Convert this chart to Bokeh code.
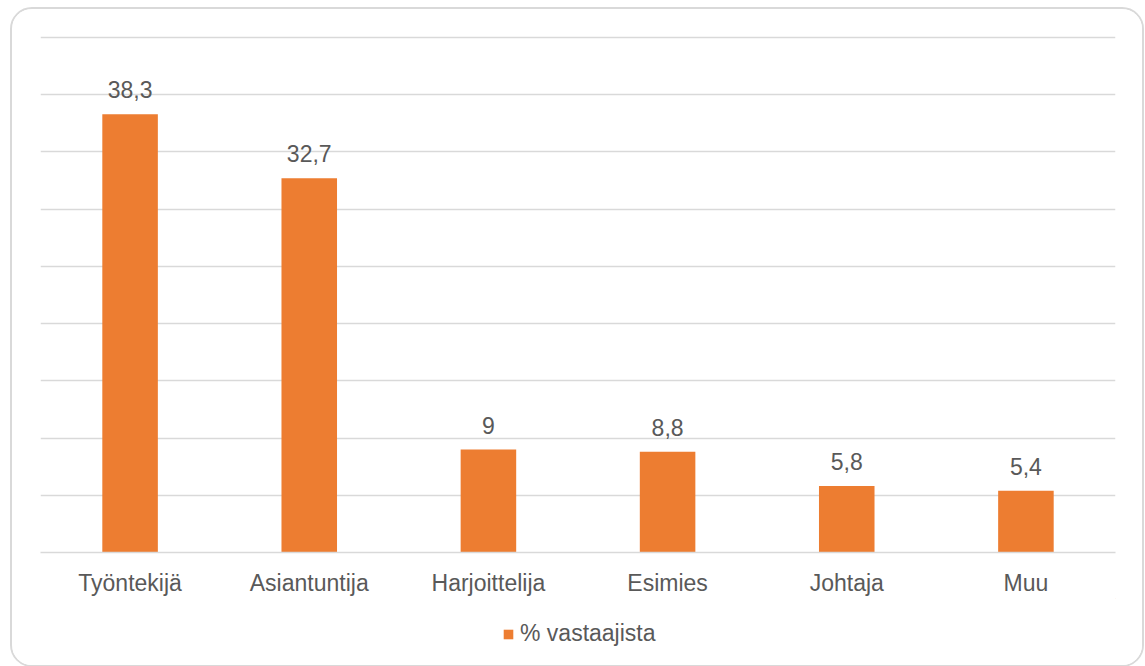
from bokeh.plotting import figure
from bokeh.layouts import column
from bokeh.models import (ColumnDataSource, FactorRange, SingleIntervalTicker, LabelSet,
                          Legend, LegendItem, Range1d)
from bokeh.core.properties import value
from bokeh.embed import file_html
from bokeh.resources import INLINE

categories = ["Työntekijä", "Asiantuntija", "Harjoittelija", "Esimies", "Johtaja", "Muu"]
values = [38.3, 32.7, 9, 8.8, 5.8, 5.4]
series_name = "% vastaajista"

def fmt(v):
    s = ("%g" % v)
    return s.replace(".", ",")

labels = [fmt(v) for v in values]

source = ColumnDataSource(dict(cat=categories, val=values, lab=labels))

BAR = "#ED7D31"
TEXT = "#595959"
GRID = "#D9D9D9"
FONT = "Liberation Sans"

p = figure(frame_width=1075, frame_height=517, output_backend="svg", toolbar_location=None,
           x_range=FactorRange(*categories, range_padding=0),
           y_range=Range1d(0, 45.175),
           min_border_left=28, min_border_right=27, min_border_top=26, min_border_bottom=40,
           outline_line_color=None, background_fill_color="white", border_fill_color="white")

r = p.vbar(x="cat", top="val", width=0.31, source=source, fill_color=BAR, line_color=None)

p.yaxis.visible = False
p.ygrid.ticker = SingleIntervalTicker(interval=5)
p.ygrid.grid_line_color = GRID
p.ygrid.grid_line_width = 1.3
p.xgrid.grid_line_color = None

ax = p.xaxis[0]
ax.axis_line_color = GRID
ax.axis_line_width = 1.3
ax.major_tick_line_color = None
ax.minor_tick_line_color = None
ax.major_label_text_font = FONT
ax.major_label_text_font_size = "23px"
ax.major_label_text_color = TEXT
ax.major_label_standoff = 11

lbl = LabelSet(x="cat", y="val", text="lab", source=source, text_align="center",
               text_baseline="alphabetic", y_offset=16, text_font=value(FONT),
               text_font_size=value("23px"), text_color=value(TEXT))
p.add_layout(lbl)

# legend strip below the chart (its swatch renderer sits outside the visible range)
p2 = figure(width=1130, height=67, output_backend="svg", toolbar_location=None,
            x_range=Range1d(0, 1), y_range=Range1d(0, 1),
            min_border=0, outline_line_color=None,
            background_fill_color="white", border_fill_color="white")
p2.axis.visible = False
p2.grid.grid_line_color = None
r2 = p2.vbar(x=[5], top=[5], bottom=[4], width=0.31, fill_color=BAR, line_color=None)

legend = Legend(items=[LegendItem(label=series_name, renderers=[r2])],
                location=(462, 18), orientation="horizontal",
                padding=0, margin=0, glyph_width=12, glyph_height=12,
                label_height=24, label_standoff=6,
                label_text_font=FONT, label_text_font_size="23px", label_text_color=TEXT,
                border_line_alpha=0, background_fill_alpha=0)
p2.add_layout(legend, "center")

layout = column(p, p2, spacing=0,
                styles={"margin-left": "10px", "margin-top": "7px",
                        "border": "2px solid #D9D9D9", "border-radius": "22px",
                        "overflow": "hidden", "background": "white"})

open("out.html", "w").write(file_html(layout, INLINE))
